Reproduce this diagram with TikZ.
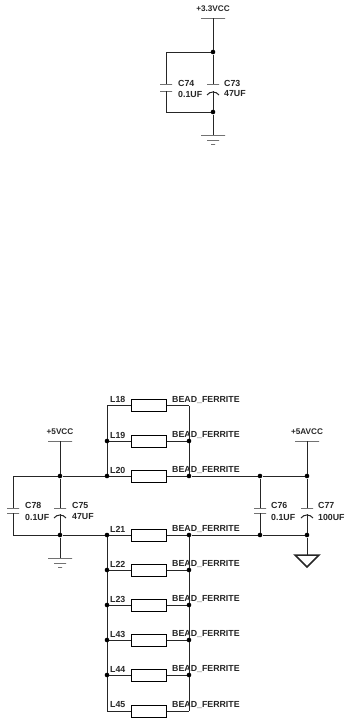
\documentclass[tikz,border=0pt]{standalone}
\usepackage{fontspec}
\setmainfont{Liberation Sans}
\tikzset{
  wire/.style = {line width = 1pt, color = black!85},
  junction/.style = {circle, fill = black, inner sep = 0pt, minimum size = 4.6pt},
  plate/.style = {draw, line width = 1pt, color = black!85, inner sep = 0pt, minimum width = 12pt, minimum height = 0pt},
  railbar/.style = {plate, minimum width = 24pt},
  beadbox/.style = {draw, line width = 1pt, fill = white, inner sep = 0pt, minimum width = 35pt, minimum height = 12pt},
  lbl/.style = {font = \bfseries\fontsize{8.8}{9}\selectfont, inner sep = 0pt, color = black!85},
  llbl/.style = {lbl, anchor = west},
  vlbl/.style = {lbl, font = \bfseries\fontsize{8.2}{9}\selectfont}
}
\begin{document}
\begin{tikzpicture}[x = 1pt, y = -1pt]
\useasboundingbox (0,0) rectangle (345,720);

% 3.3V group
\node[vlbl] (v33) at (213,9) {+3.3VCC};
\node[railbar] (b33) at (213,18) {};
\node[junction] (j33a) at (213,52) {};
\node[junction] (j33b) at (213,112) {};
\node[railbar] (g33a) at (213,135) {};
\node[plate] (g33b) at (213,140) {};
\node[plate, minimum width = 4pt] (g33c) at (213,144) {};
\coordinate (c74a) at (166,52);
\coordinate (c74b) at (166,112);
\node[plate] (C74p) at (166,84) {};
\node[plate] (C74q) at (166,91) {};
\node[plate] (C73p) at (213,84) {};
\coordinate (C73q) at (213,91);
\draw[wire] (b33.center) -- (j33a) -- (C73p.center);
\draw[wire] (C73q) -- (j33b) -- (g33a.center);
\draw[wire] (j33a) -- (c74a) -- (C74p.center);
\draw[wire] (C74q.center) -- (c74b) -- (j33b);
\draw[wire] (207,95) .. controls (210,91) and (216,91) .. (219,95);
\node[llbl] (C74n) at (178,83) {C74};
\node[llbl] (C74v) at (178,94) {0.1UF};
\node[llbl] (C73n) at (224,83) {C73};
\node[llbl] (C73v) at (224,94) {47UF};

% beads
\foreach \name/\row in {L18/405.6,L19/441,L20/476,L21/535,L22/570,L23/605,L43/640,L44/675,L45/711} {
  \node[beadbox] (\name) at (148.5,\row) {};
  \coordinate (lb\name) at (107,\row);
  \coordinate (rb\name) at (189,\row);
  \draw[wire] (lb\name) -- (\name) -- (rb\name);
  \node[llbl] (n\name) at (110,\row-6) {\name};
  \node[llbl] (v\name) at (172,\row-6) {BEAD\_FERRITE};
}
\draw[wire] (lbL18) -- (lbL20);
\draw[wire] (rbL18) -- (rbL20);
\draw[wire] (lbL21) -- (lbL45);
\draw[wire] (rbL21) -- (rbL45);
\foreach \name in {L19,L20,L21,L22,L23,L43,L44} {
  \node[junction] (jl\name) at (lb\name) {};
  \node[junction] (jr\name) at (rb\name) {};
}

% rails
\foreach \x/\tag in {60/a,260/c,307/d} {
  \node[junction] (top\tag) at (\x,476) {};
  \node[junction] (bot\tag) at (\x,535) {};
}
\coordinate (c78a) at (13,476);
\coordinate (c78b) at (13,535);
\draw[wire] (c78a) -- (topa) -- (jlL20);
\draw[wire] (jrL20) -- (topc) -- (topd);
\draw[wire] (c78b) -- (bota) -- (jlL21);
\draw[wire] (jrL21) -- (botc) -- (botd);

% caps on rails
\node[plate] (C78p) at (13,508) {};
\node[plate] (C78q) at (13,513) {};
\draw[wire] (c78a) -- (C78p.center);
\draw[wire] (C78q.center) -- (c78b);
\node[plate] (C76p) at (260,508) {};
\node[plate] (C76q) at (260,513) {};
\draw[wire] (topc) -- (C76p.center);
\draw[wire] (C76q.center) -- (botc);
\foreach \x/\tag in {60/a,307/d} {
  \node[plate] (polar\tag) at (\x,508) {};
  \coordinate (curve\tag) at (\x,514);
  \node[railbar] (vcc\tag) at (\x,441) {};
  \draw[wire] (vcc\tag.center) -- (top\tag) -- (polar\tag.center);
  \draw[wire] (curve\tag) -- (bot\tag);
  \draw[wire] (\x-6,518) .. controls (\x-3,514) and (\x+3,514) .. (\x+6,518);
}

% grounds
\node[railbar] (g5a) at (60,558) {};
\node[plate] (g5b) at (60,563) {};
\node[plate, minimum width = 4pt] (g5c) at (60,567) {};
\draw[wire] (bota) -- (g5a.center);
\coordinate (tria) at (307,555);
\draw[wire] (botd) -- (tria);
\draw[line width = 1.5pt, color = black!85] (295,555) -- (319,555) -- (307,567) -- cycle;

% text
\node[vlbl] (v5) at (60,432) {+5VCC};
\node[vlbl] (v5a) at (307,432) {+5AVCC};
\node[llbl] (C78n) at (25,505) {C78};
\node[llbl] (C78v) at (25,517) {0.1UF};
\node[llbl] (C75n) at (72,505) {C75};
\node[llbl] (C75v) at (72,517) {47UF};
\node[llbl] (C76n) at (271,505) {C76};
\node[llbl] (C76v) at (271,517) {0.1UF};
\node[llbl] (C77n) at (318,505) {C77};
\node[llbl] (C77v) at (318,517) {100UF};

\end{tikzpicture}
\end{document}
